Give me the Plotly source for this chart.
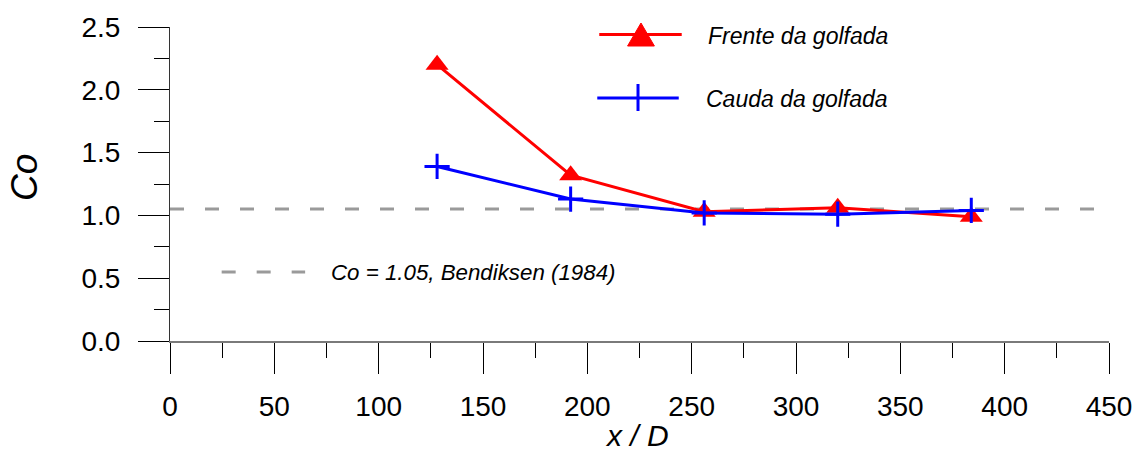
import plotly.graph_objects as go

# ---- data ----
x_over_d = [128, 192, 256, 320, 384]
frente = [2.20, 1.32, 1.03, 1.06, 0.99]
cauda = [1.39, 1.13, 1.02, 1.01, 1.04]
co_ref_value = 1.05
co_ref_x = [0, 444]

x_ticks = [0, 50, 100, 150, 200, 250, 300, 350, 400, 450]
y_ticks = [0.0, 0.5, 1.0, 1.5, 2.0, 2.5]
y_tick_labels = ["0.0", "0.5", "1.0", "1.5", "2.0", "2.5"]

W, H = 1144, 454
L, R, T, B = 170, 29, 27, 113
PW, PH = W - L - R, H - T - B


def px(xp):
    return (xp - L) / PW


def py(yp):
    return (H - B - yp) / PH


FONT = "Liberation Sans, Arial, sans-serif"

fig = go.Figure()

fig.add_trace(go.Scatter(
    x=co_ref_x, y=[co_ref_value] * len(co_ref_x), mode="lines",
    line=dict(color="#9a9a9a", width=3, dash="14px,21px"),
    showlegend=False, hoverinfo="skip"))

fig.add_trace(go.Scatter(
    x=x_over_d, y=frente, mode="lines+markers", name="Frente da golfada",
    line=dict(color="#ff0000", width=3),
    marker=dict(symbol="triangle-up", size=20, color="#ff0000"),
    showlegend=False))

fig.add_trace(go.Scatter(
    x=x_over_d, y=cauda, mode="lines+markers", name="Cauda da golfada",
    line=dict(color="#0000ff", width=3),
    marker=dict(symbol="cross-thin", size=18, line=dict(color="#0000ff", width=3)),
    showlegend=False))

shapes = []
# legend: Frente
shapes.append(dict(type="line", xref="paper", yref="paper",
                   x0=px(602), x1=px(685), y0=py(34.5), y1=py(34.5),
                   line=dict(color="#ff0000", width=3)))
shapes.append(dict(type="path", xref="paper", yref="paper",
                   path=f"M {px(630.5)},{py(46)} L {px(657.5)},{py(46)} L {px(644)},{py(23)} Z",
                   fillcolor="#ff0000", line=dict(color="#ff0000", width=1)))
# legend: Cauda
shapes.append(dict(type="line", xref="paper", yref="paper",
                   x0=px(600), x1=px(682), y0=py(98), y1=py(98),
                   line=dict(color="#0000ff", width=3)))
shapes.append(dict(type="line", xref="paper", yref="paper",
                   x0=px(641), x1=px(641), y0=py(84), y1=py(111),
                   line=dict(color="#0000ff", width=3)))
# legend: Bendiksen
shapes.append(dict(type="line", xref="paper", yref="paper",
                   x0=px(222), x1=px(306), y0=py(272), y1=py(272),
                   line=dict(color="#9a9a9a", width=3, dash="14px,21px")))

annotations = [
    dict(text="Frente da golfada", x=px(709), y=py(36), xref="paper", yref="paper",
         xanchor="left", yanchor="middle", showarrow=False,
         font=dict(family=FONT, size=23, color="black", style="italic")),
    dict(text="Cauda da golfada", x=px(707), y=py(99), xref="paper", yref="paper",
         xanchor="left", yanchor="middle", showarrow=False,
         font=dict(family=FONT, size=23, color="black", style="italic")),
    dict(text="Co = 1.05, Bendiksen (1984)", x=px(330), y=py(272), xref="paper", yref="paper",
         xanchor="left", yanchor="middle", showarrow=False,
         font=dict(family=FONT, size=22.3, color="black", style="italic")),
    dict(text="x / D", x=px(640), y=py(435), xref="paper", yref="paper",
         xanchor="center", yanchor="middle", showarrow=False,
         font=dict(family=FONT, size=30, color="black", style="italic")),
    dict(text="Co", x=px(23), y=py(177), xref="paper", yref="paper",
         xanchor="center", yanchor="middle", showarrow=False, textangle=-90,
         font=dict(family=FONT, size=37, color="black", style="italic")),
]

fig.update_layout(
    width=W, height=H, autosize=False,
    margin=dict(l=L, r=R, t=T, b=B, pad=0),
    plot_bgcolor="white", paper_bgcolor="white",
    shapes=shapes, annotations=annotations,
    font=dict(family=FONT, size=28, color="black"),
)

fig.update_xaxes(
    range=[0, 450], tickvals=x_ticks, ticktext=[str(v) for v in x_ticks],
    showgrid=False, zeroline=False, showline=True, linecolor="#7a7a7a", linewidth=2,
    ticks="outside", ticklen=31, tickwidth=1, tickcolor="black",
    ticklabelstandoff=8,
    minor=dict(dtick=25, tick0=0, ticks="outside", ticklen=15, tickwidth=1,
               tickcolor="black", showgrid=False),
    tickfont=dict(family=FONT, size=28, color="black"),
)
fig.update_yaxes(
    range=[0, 2.5], tickvals=y_ticks, ticktext=y_tick_labels,
    showgrid=False, zeroline=False, showline=True, linecolor="#333333", linewidth=1,
    ticks="outside", ticklen=31, tickwidth=1, tickcolor="black",
    ticklabelstandoff=12,
    minor=dict(dtick=0.25, tick0=0, ticks="outside", ticklen=15, tickwidth=1,
               tickcolor="black", showgrid=False),
    tickfont=dict(family=FONT, size=28, color="black"),
)

fig.write_html("out.html")
